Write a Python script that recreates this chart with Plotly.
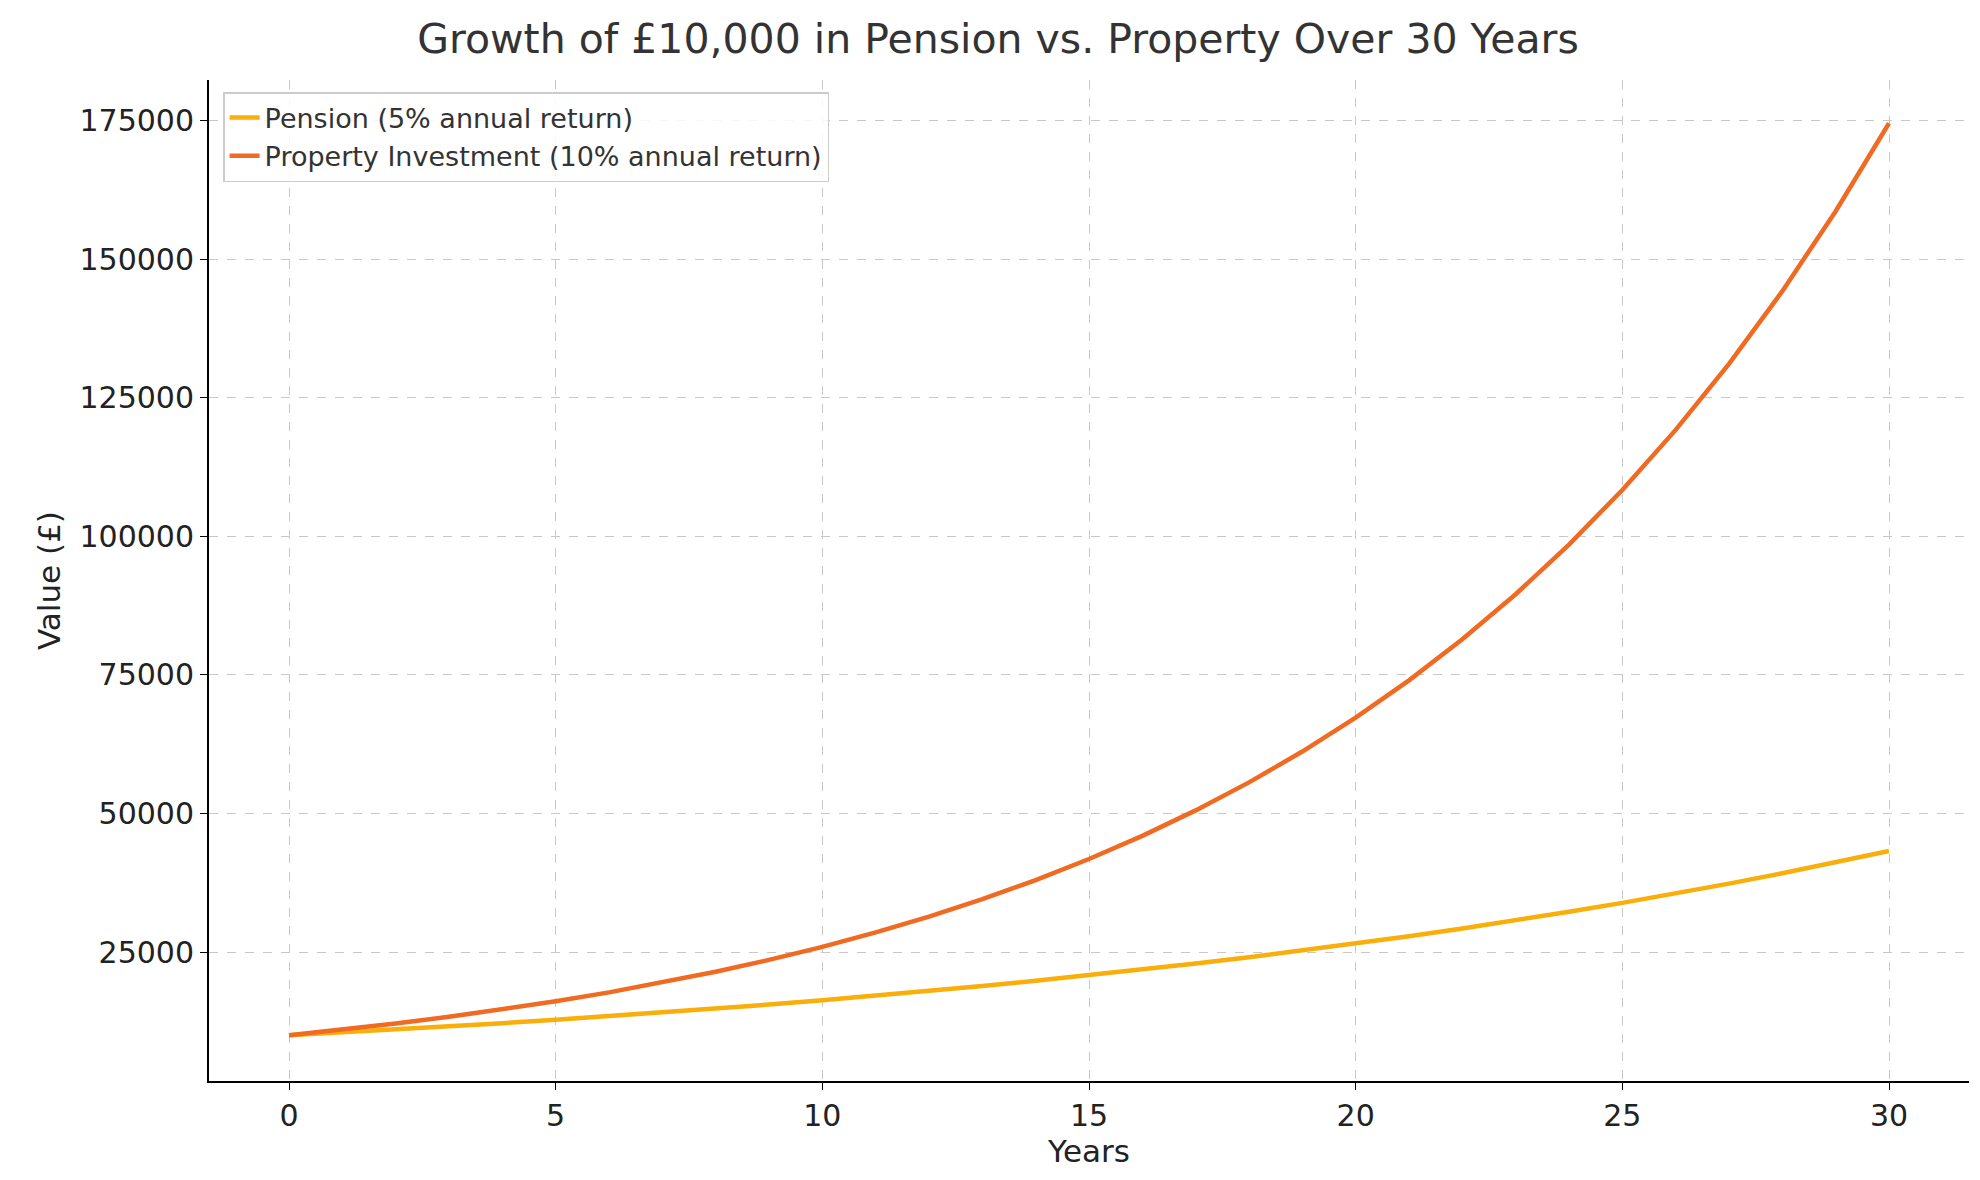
import plotly.graph_objects as go

years = list(range(0, 31))
pension = [10000, 10500, 11025, 11576, 12155, 12763, 13401, 14071, 14775, 15513,
           16289, 17103, 17959, 18856, 19799, 20789, 21829, 22920, 24066, 25270,
           26533, 27860, 29253, 30715, 32251, 33864, 35557, 37335, 39201, 41161, 43219]
property_inv = [10000, 11000, 12100, 13310, 14641, 16105, 17716, 19487, 21436, 23579,
                25937, 28531, 31384, 34523, 37975, 41772, 45950, 50545, 55599, 61159,
                67275, 74002, 81403, 89543, 98497, 108347, 119182, 131100, 144210, 158631, 174494]

fig = go.Figure()
fig.add_trace(go.Scatter(x=years, y=pension, mode="lines", name="Pension (5% annual return)",
                         line=dict(color="#F9AE0A", width=4.5)))
fig.add_trace(go.Scatter(x=years, y=property_inv, mode="lines", name="Property Investment (10% annual return)",
                         line=dict(color="#F06A22", width=4.5)))

axis_common = dict(showgrid=True, gridcolor="#c8c8c8", griddash="dash", gridwidth=1,
                   showline=True, linecolor="black", linewidth=2, ticks="outside",
                   ticklen=7, tickcolor="black", zeroline=False,
                   tickfont=dict(size=30, color="#222"))

fig.update_layout(
    width=1980, height=1180,
    paper_bgcolor="white", plot_bgcolor="white",
    font=dict(family="DejaVu Sans", color="#222"),
    title=dict(text="Growth of £10,000 in Pension vs. Property Over 30 Years",
               x=0.5, xanchor="center", y=0.974, yanchor="middle",
               font=dict(size=41, color="#333")),
    margin=dict(l=201, r=19, t=72, b=107),
    xaxis=dict(axis_common, range=[-1.5, 31.5], tickvals=[0, 5, 10, 15, 20, 25, 30],
               title=dict(text="Years", font=dict(size=31), standoff=8)),
    yaxis=dict(axis_common, range=[1733, 182300],
               tickvals=[25000, 50000, 75000, 100000, 125000, 150000, 175000],
               tickformat="d",
               title=dict(text="Value (£)", font=dict(size=31), standoff=10)),
    legend=dict(x=0.008, y=0.988, xanchor="left", yanchor="top",
                bgcolor="rgba(255,255,255,0.85)", bordercolor="#ccc", borderwidth=1.5,
                font=dict(size=27, color="#333")),
    showlegend=True,
)

fig.write_html("out.html")
